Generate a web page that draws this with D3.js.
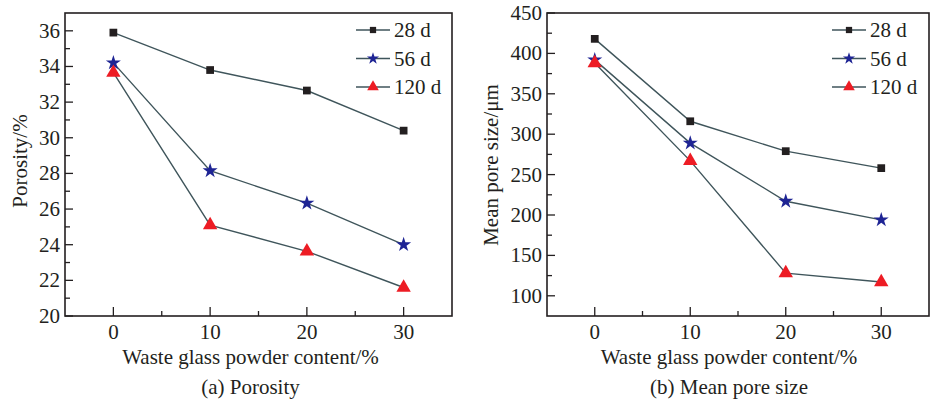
<!DOCTYPE html>
<html>
<head>
<meta charset="utf-8">
<script src="https://cdn.jsdelivr.net/npm/d3@7"></script>
<style>
  body { margin: 0; background: #fff; }
  text { font-family: "Liberation Serif", "Times New Roman", serif; fill: #231f20; }
</style>
</head>
<body>
<div id="chart"></div>
<script>
// glass powder content, %
const contents = [0, 10, 20, 30];
const ages = ["28 d", "56 d", "120 d"];

// porosity, %
const porosity28 = [35.9, 33.8, 32.65, 30.4];
const porosity56 = [34.2, 28.15, 26.33, 24.0];
const porosity120 = [33.65, 25.1, 23.63, 21.6];

// mean pore size, um
const poreSize28 = [418, 316, 279, 258];
const poreSize56 = [392, 289, 217, 194];
const poreSize120 = [388, 267, 128, 117];

const xTicks = [0, 10, 20, 30];
const porosityTicks = [20, 22, 24, 26, 28, 30, 32, 34, 36];
const poreTicks = [100, 150, 200, 250, 300, 350, 400, 450];

const lineColor = "#3f555b";
const markerColors = ["#231f20", "#1e2494", "#ed1c24"];
const markerTypes = [d3.symbolSquare, d3.symbolStar, d3.symbolTriangle];
const markerSizes = [60, 70, 90];
const fs = 21;

const svg = d3.select("#chart").append("svg")
  .attr("width", 930)
  .attr("height", 402);

function drawPanel(cfg) {
  const g = svg.append("g");
  const x = d3.scaleLinear().domain([-5, 35]).range([cfg.left, cfg.right]);
  const y = d3.scaleLinear().domain(cfg.yDomain).range([cfg.bottom, cfg.top]);

  // frame
  g.append("rect")
    .attr("x", cfg.left).attr("y", cfg.top)
    .attr("width", cfg.right - cfg.left).attr("height", cfg.bottom - cfg.top)
    .attr("fill", "none").attr("stroke", "#231f20").attr("stroke-width", 1.6);

  // x axis ticks (inward)
  const xMinor = [5, 15, 25];
  g.selectAll(".xmaj").data(xTicks).join("line")
    .attr("x1", d => x(d)).attr("x2", d => x(d))
    .attr("y1", cfg.bottom).attr("y2", cfg.bottom - 9)
    .attr("stroke", "#231f20").attr("stroke-width", 1.3);
  g.selectAll(".xmin").data(xMinor).join("line")
    .attr("x1", d => x(d)).attr("x2", d => x(d))
    .attr("y1", cfg.bottom).attr("y2", cfg.bottom - 5)
    .attr("stroke", "#231f20").attr("stroke-width", 1.3);
  g.selectAll(".xlab").data(xTicks).join("text")
    .attr("x", d => x(d)).attr("y", cfg.bottom + 23)
    .attr("text-anchor", "middle").attr("font-size", fs)
    .text(d => d);

  // y axis ticks (inward)
  const step = cfg.yTicks[1] - cfg.yTicks[0];
  const yMinor = cfg.yTicks.map(d => d + step / 2).filter(d => d < cfg.yDomain[1]);
  g.selectAll(".ymaj").data(cfg.yTicks).join("line")
    .attr("x1", cfg.left).attr("x2", cfg.left + 8)
    .attr("y1", d => y(d)).attr("y2", d => y(d))
    .attr("stroke", "#231f20").attr("stroke-width", 1.3);
  g.selectAll(".ymin").data(yMinor).join("line")
    .attr("x1", cfg.left).attr("x2", cfg.left + 5)
    .attr("y1", d => y(d)).attr("y2", d => y(d))
    .attr("stroke", "#231f20").attr("stroke-width", 1.3);
  g.selectAll(".ylab").data(cfg.yTicks).join("text")
    .attr("x", cfg.left - 5).attr("y", d => y(d) + 7)
    .attr("text-anchor", "end").attr("font-size", fs)
    .text(d => d);

  // axis titles
  g.append("text")
    .attr("transform", `translate(${cfg.yTitleX},${cfg.yTitleY}) rotate(-90)`)
    .attr("text-anchor", "middle").attr("font-size", fs)
    .text(cfg.yTitle);
  g.append("text")
    .attr("x", (cfg.left + cfg.right) / 2 + cfg.xTitleShift).attr("y", 364)
    .attr("text-anchor", "middle").attr("font-size", fs)
    .text("Waste glass powder content/%");
  g.append("text")
    .attr("x", (cfg.left + cfg.right) / 2 + cfg.xTitleShift).attr("y", 394)
    .attr("text-anchor", "middle").attr("font-size", fs)
    .text(cfg.caption);

  // series
  const line = d3.line().x((d, i) => x(contents[i])).y(d => y(d));
  cfg.series.forEach((vals, s) => {
    g.append("path")
      .attr("d", line(vals))
      .attr("fill", "none").attr("stroke", lineColor).attr("stroke-width", 1.4);
  });
  cfg.series.forEach((vals, s) => {
    g.selectAll(".m" + s).data(vals).join("path")
      .attr("transform", (d, i) => `translate(${x(contents[i])},${y(d)})`)
      .attr("d", d3.symbol().type(markerTypes[s]).size(markerSizes[s]))
      .attr("fill", markerColors[s]);
  });

  // legend
  const lg = g.append("g");
  ages.forEach((a, s) => {
    const ly = cfg.top + 17 + s * 28.5;
    lg.append("line")
      .attr("x1", cfg.legendX).attr("x2", cfg.legendX + 34)
      .attr("y1", ly).attr("y2", ly)
      .attr("stroke", lineColor).attr("stroke-width", 1.4);
    lg.append("path")
      .attr("transform", `translate(${cfg.legendX + 17},${ly})`)
      .attr("d", d3.symbol().type(markerTypes[s]).size(markerSizes[s] * 0.65))
      .attr("fill", markerColors[s]);
    lg.append("text")
      .attr("x", cfg.legendX + 38).attr("y", ly + 7)
      .attr("font-size", fs)
      .text(a);
  });
}

drawPanel({
  left: 65, right: 452, top: 13, bottom: 316,
  yDomain: [20, 37], yTicks: porosityTicks,
  yTitle: "Porosity/%", yTitleX: 27, yTitleY: 161,
  caption: "(a) Porosity", xTitleShift: -8,
  legendX: 356,
  series: [porosity28, porosity56, porosity120]
});

drawPanel({
  left: 547, right: 929, top: 13, bottom: 316,
  yDomain: [75, 450], yTicks: poreTicks,
  yTitle: "Mean pore size/\u03bcm", yTitleX: 498, yTitleY: 165,
  caption: "(b) Mean pore size", xTitleShift: -9,
  legendX: 832,
  series: [poreSize28, poreSize56, poreSize120]
});
</script>
</body>
</html>
